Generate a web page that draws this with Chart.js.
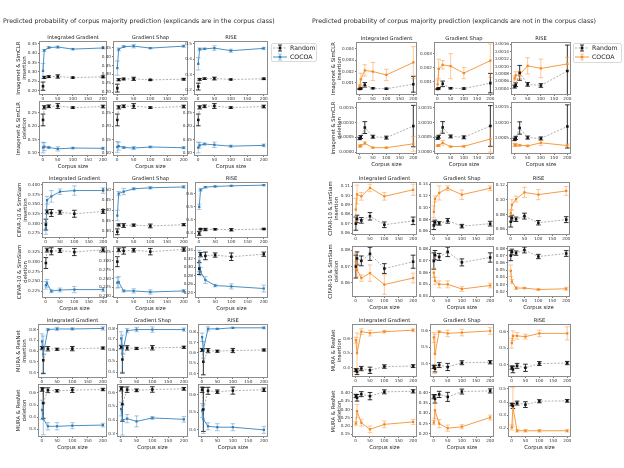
<!DOCTYPE html>
<html>
<head>
<meta charset="utf-8">
<script src="https://cdn.jsdelivr.net/npm/chart.js@4.4.1/dist/chart.umd.min.js"></script>
<style>
  body { margin: 0; background: #fff; }
  #fig { position: relative; width: 624px; height: 468px; overflow: hidden; background: #fff; font-family: "DejaVu Sans", sans-serif; }
  .title { position: absolute; color: #2a2a2a; white-space: nowrap; line-height: 1; font-weight: normal;
           -webkit-font-smoothing: antialiased; will-change: transform; }
  canvas { position: absolute; }
</style>
</head>
<body>
<div id="fig"></div>
<script>
// ---------- data ----------
const corpusSizes = [1, 5, 20, 50, 100, 200];
const xTicks = [0, 50, 100, 150, 200];
const methods = ["Integrated Gradient", "Gradient Shap", "RISE"];
const datasetNames = ["Imagenet & SimCLR", "CIFAR-10 & SimSiam", "MURA & ResNet"];
const metrics = ["insertion", "deletion"];
const seriesNames = ["Random", "COCOA"];

// Random baseline (same for every explainer of a dataset)
const inImgRandom     = [0.223, 0.270, 0.274, 0.275, 0.269, 0.273];
const inImgRandomErr  = [0.022, 0.006, 0.005, 0.009, 0.003, 0.005];
const inCifRandom     = [0.297, 0.330, 0.327, 0.329, 0.325, 0.331];
const inCifRandomErr  = [0.014, 0.005, 0.009, 0.005, 0.009, 0.005];
const inMurRandom     = [0.628, 0.516, 0.622, 0.617, 0.623, 0.628];
const inMurRandomErr  = [0.015, 0.125, 0.020, 0.010, 0.020, 0.010];
const outImgRandom    = [0.00046, 0.00051, 0.00083, 0.00052, 0.00049, 0.00088];
const outImgRandomErr = [0.00004, 0.00005, 0.00020, 0.00005, 0.00005, 0.00070];
const outCifRandom    = [0.0700, 0.0750, 0.0735, 0.0778, 0.0688, 0.0730];
const outCifRandomErr = [0.0070, 0.0040, 0.0030, 0.0040, 0.0030, 0.0040];
const outMurRandom    = [0.381, 0.370, 0.392, 0.380, 0.406, 0.409];
const outMurRandomErr = [0.010, 0.020, 0.015, 0.022, 0.012, 0.010];

// COCOA, explicands in the corpus class
const inImgInsIG      = [0.305, 0.415, 0.430, 0.433, 0.422, 0.428];
const inImgInsIGErr   = [0.040, 0.005, 0.006, 0.006, 0.004, 0.005];
const inImgInsGS      = [0.335, 0.440, 0.455, 0.458, 0.447, 0.458];
const inImgInsGSErr   = [0.040, 0.008, 0.005, 0.010, 0.003, 0.006];
const inImgInsRISE    = [0.370, 0.465, 0.467, 0.472, 0.455, 0.470];
const inImgInsRISEErr = [0.040, 0.008, 0.005, 0.015, 0.010, 0.007];
const inImgDelIG      = [0.120, 0.123, 0.120, 0.115, 0.118, 0.117];
const inImgDelIGErr   = [0.020, 0.015, 0.004, 0.008, 0.003, 0.004];
const inImgDelGS      = [0.122, 0.125, 0.120, 0.118, 0.122, 0.119];
const inImgDelGSErr   = [0.020, 0.015, 0.004, 0.006, 0.003, 0.004];
const inImgDelRISE    = [0.120, 0.128, 0.133, 0.130, 0.125, 0.128];
const inImgDelRISEErr = [0.020, 0.010, 0.004, 0.010, 0.004, 0.005];
const inCifInsIG      = [0.287, 0.360, 0.370, 0.382, 0.385, 0.385];
const inCifInsIGErr   = [0.015, 0.010, 0.015, 0.007, 0.012, 0.007];
const inCifInsGS      = [0.375, 0.480, 0.490, 0.503, 0.508, 0.512];
const inCifInsGSErr   = [0.025, 0.010, 0.015, 0.005, 0.006, 0.006];
const inCifInsRISE    = [0.500, 0.630, 0.650, 0.655, 0.660, 0.665];
const inCifInsRISEErr = [0.020, 0.010, 0.006, 0.005, 0.004, 0.004];
const inCifDelIG      = [0.240, 0.245, 0.225, 0.228, 0.229, 0.229];
const inCifDelIGErr   = [0.010, 0.010, 0.004, 0.005, 0.008, 0.005];
const inCifDelGS      = [0.238, 0.240, 0.215, 0.215, 0.212, 0.215];
const inCifDelGSErr   = [0.015, 0.015, 0.003, 0.006, 0.006, 0.004];
const inCifDelRISE    = [0.315, 0.290, 0.270, 0.257, 0.255, 0.250];
const inCifDelRISEErr = [0.025, 0.010, 0.008, 0.003, 0.006, 0.008];
const inMurInsIG      = [0.690, 0.570, 0.800, 0.805, 0.805, 0.810];
const inMurInsIGErr   = [0.070, 0.170, 0.010, 0.015, 0.010, 0.015];
const inMurInsGS      = [0.710, 0.570, 0.780, 0.790, 0.790, 0.790];
const inMurInsGSErr   = [0.060, 0.170, 0.020, 0.020, 0.025, 0.015];
const inMurInsRISE    = [0.750, 0.630, 0.830, 0.830, 0.840, 0.840];
const inMurInsRISEErr = [0.040, 0.080, 0.020, 0.005, 0.005, 0.010];
const inMurDelIG      = [0.460, 0.385, 0.325, 0.325, 0.330, 0.335];
const inMurDelIGErr   = [0.080, 0.130, 0.030, 0.030, 0.025, 0.015];
const inMurDelGS      = [0.480, 0.400, 0.410, 0.390, 0.415, 0.405];
const inMurDelGSErr   = [0.050, 0.110, 0.030, 0.040, 0.010, 0.020];
const inMurDelRISE    = [0.510, 0.460, 0.420, 0.415, 0.415, 0.400];
const inMurDelRISEErr = [0.040, 0.080, 0.020, 0.020, 0.020, 0.020];

// COCOA, explicands not in the corpus class
const outImgInsIG      = [0.00070, 0.00130, 0.00210, 0.00200, 0.00170, 0.00280];
const outImgInsIGErr   = [0.00015, 0.00055, 0.00050, 0.00080, 0.00050, 0.00140];
const outImgInsGS      = [0.00080, 0.00190, 0.00220, 0.00210, 0.00160, 0.00250];
const outImgInsGSErr   = [0.00030, 0.00070, 0.00030, 0.00090, 0.00040, 0.00120];
const outImgInsRISE    = [0.00068, 0.00076, 0.00078, 0.00102, 0.00095, 0.00107];
const outImgInsRISEErr = [0.00007, 0.00010, 0.00010, 0.00022, 0.00025, 0.00018];
const outImgDelIG      = [0.00020, 0.00022, 0.00030, 0.00015, 0.00015, 0.00028];
const outImgDelIGErr   = [0.00004, 0.00003, 0.00005, 0.00002, 0.00002, 0.00025];
const outImgDelGS      = [0.00020, 0.00021, 0.00030, 0.00017, 0.00018, 0.00043];
const outImgDelGSErr   = [0.00003, 0.00003, 0.00008, 0.00002, 0.00003, 0.00045];
const outImgDelRISE    = [0.00028, 0.00028, 0.00027, 0.00025, 0.00035, 0.00026];
const outImgDelRISEErr = [0.00005, 0.00005, 0.00003, 0.00003, 0.00008, 0.00005];
const outCifInsIG      = [0.085, 0.101, 0.099, 0.108, 0.099, 0.106];
const outCifInsIGErr   = [0.012, 0.010, 0.004, 0.004, 0.004, 0.006];
const outCifInsGS      = [0.093, 0.115, 0.125, 0.133, 0.122, 0.133];
const outCifInsGSErr   = [0.010, 0.005, 0.012, 0.004, 0.008, 0.004];
const outCifInsRISE    = [0.082, 0.093, 0.101, 0.110, 0.107, 0.112];
const outCifInsRISEErr = [0.004, 0.007, 0.004, 0.007, 0.007, 0.006];
const outCifDelIG      = [0.073, 0.068, 0.063, 0.066, 0.059, 0.063];
const outCifDelIGErr   = [0.005, 0.004, 0.002, 0.005, 0.006, 0.003];
const outCifDelGS      = [0.060, 0.053, 0.050, 0.050, 0.046, 0.049];
const outCifDelGSErr   = [0.004, 0.003, 0.003, 0.003, 0.002, 0.002];
const outCifDelRISE    = [0.049, 0.034, 0.025, 0.025, 0.023, 0.024];
const outCifDelRISEErr = [0.008, 0.003, 0.002, 0.001, 0.001, 0.002];
const outMurInsIG      = [0.590, 0.500, 0.650, 0.640, 0.650, 0.660];
const outMurInsIGErr   = [0.020, 0.140, 0.020, 0.020, 0.010, 0.010];
const outMurInsGS      = [0.560, 0.460, 0.595, 0.585, 0.590, 0.600];
const outMurInsGSErr   = [0.030, 0.120, 0.005, 0.020, 0.020, 0.020];
const outMurInsRISE    = [0.530, 0.575, 0.575, 0.570, 0.590, 0.590];
const outMurInsRISEErr = [0.030, 0.030, 0.020, 0.015, 0.020, 0.040];
const outMurDelIG      = [0.215, 0.290, 0.220, 0.180, 0.210, 0.225];
const outMurDelIGErr   = [0.010, 0.040, 0.020, 0.020, 0.020, 0.015];
const outMurDelGS      = [0.255, 0.315, 0.250, 0.228, 0.235, 0.280];
const outMurDelGSErr   = [0.010, 0.040, 0.020, 0.015, 0.010, 0.012];
const outMurDelRISE    = [0.205, 0.360, 0.180, 0.180, 0.180, 0.180];
const outMurDelRISEErr = [0.020, 0.150, 0.010, 0.010, 0.010, 0.010];

// y tick labels
const tIn20to45   = ["0.20", "0.25", "0.30", "0.35", "0.40", "0.45"];
const tIn2to5     = ["0.2", "0.3", "0.4", "0.5"];
const tIn10to25   = ["0.10", "0.15", "0.20", "0.25"];
const tInCifInsIG = ["0.275", "0.300", "0.325", "0.350", "0.375", "0.400"];
const tInCifInsGS = ["0.30", "0.35", "0.40", "0.45", "0.50"];
const tIn3to6     = ["0.3", "0.4", "0.5", "0.6"];
const tInCifDelIG = ["0.225", "0.250", "0.275", "0.300", "0.325"];
const tInCifDelGS = ["0.200", "0.225", "0.250", "0.275", "0.300", "0.325"];
const tInCifDelRISE = ["0.24", "0.26", "0.28", "0.30", "0.32", "0.34"];
const tIn4to8     = ["0.4", "0.5", "0.6", "0.7", "0.8"];
const tIn4to6     = ["0.4", "0.5", "0.6"];
const tOutImgInsIG = ["0.001", "0.002", "0.003", "0.004"];
const tOutImgInsGS = ["0.001", "0.002", "0.003"];
const tOutImgInsRISE = ["0.0004", "0.0006", "0.0008", "0.0010", "0.0012", "0.0014", "0.0016"];
const tOutImgDel  = ["0.0000", "0.0005", "0.0010", "0.0015"];
const tOutCifInsIG = ["0.06", "0.07", "0.08", "0.09", "0.10", "0.11"];
const tOutCifInsGS = ["0.06", "0.08", "0.10", "0.12", "0.14"];
const tOutCifInsRISE = ["0.06", "0.08", "0.10", "0.12"];
const tOutCifDel  = ["0.02", "0.03", "0.04", "0.05", "0.06", "0.07", "0.08"];
const tOutMurDelIG = ["0.15", "0.20", "0.25", "0.30", "0.35", "0.40"];
const tOutMurDelGS = ["0.20", "0.25", "0.30", "0.35", "0.40"];

// ---------- tables built from the arrays (panel -> dataset -> metric -> method) ----------
const randomTable = [
  [[inImgRandom, inImgRandomErr], [inCifRandom, inCifRandomErr], [inMurRandom, inMurRandomErr]],
  [[outImgRandom, outImgRandomErr], [outCifRandom, outCifRandomErr], [outMurRandom, outMurRandomErr]],
];
const cocoaTable = [
  [
    [[[inImgInsIG, inImgInsIGErr], [inImgInsGS, inImgInsGSErr], [inImgInsRISE, inImgInsRISEErr]],
     [[inImgDelIG, inImgDelIGErr], [inImgDelGS, inImgDelGSErr], [inImgDelRISE, inImgDelRISEErr]]],
    [[[inCifInsIG, inCifInsIGErr], [inCifInsGS, inCifInsGSErr], [inCifInsRISE, inCifInsRISEErr]],
     [[inCifDelIG, inCifDelIGErr], [inCifDelGS, inCifDelGSErr], [inCifDelRISE, inCifDelRISEErr]]],
    [[[inMurInsIG, inMurInsIGErr], [inMurInsGS, inMurInsGSErr], [inMurInsRISE, inMurInsRISEErr]],
     [[inMurDelIG, inMurDelIGErr], [inMurDelGS, inMurDelGSErr], [inMurDelRISE, inMurDelRISEErr]]],
  ],
  [
    [[[outImgInsIG, outImgInsIGErr], [outImgInsGS, outImgInsGSErr], [outImgInsRISE, outImgInsRISEErr]],
     [[outImgDelIG, outImgDelIGErr], [outImgDelGS, outImgDelGSErr], [outImgDelRISE, outImgDelRISEErr]]],
    [[[outCifInsIG, outCifInsIGErr], [outCifInsGS, outCifInsGSErr], [outCifInsRISE, outCifInsRISEErr]],
     [[outCifDelIG, outCifDelIGErr], [outCifDelGS, outCifDelGSErr], [outCifDelRISE, outCifDelRISEErr]]],
    [[[outMurInsIG, outMurInsIGErr], [outMurInsGS, outMurInsGSErr], [outMurInsRISE, outMurInsRISEErr]],
     [[outMurDelIG, outMurDelIGErr], [outMurDelGS, outMurDelGSErr], [outMurDelRISE, outMurDelRISEErr]]],
  ],
];
const tickTable = [
  [
    [[tIn20to45, tIn20to45, tIn2to5], [tIn10to25, tIn10to25, tIn10to25]],
    [[tInCifInsIG, tInCifInsGS, tIn3to6], [tInCifDelIG, tInCifDelGS, tInCifDelRISE]],
    [[tIn4to8, tIn4to8, tIn4to8], [tIn3to6, tIn3to6, tIn4to6]],
  ],
  [
    [[tOutImgInsIG, tOutImgInsGS, tOutImgInsRISE], [tOutImgDel, tOutImgDel, tOutImgDel]],
    [[tOutCifInsIG, tOutCifInsGS, tOutCifInsRISE], [tOutCifDel, tOutCifDel, tOutCifDel]],
    [[tIn4to6, tIn4to6, tIn4to6], [tOutMurDelIG, tOutMurDelGS, tIn2to5]],
  ],
];

// ---------- axis limits and layout ----------
const yLimits = [
  [
    [[[0.181, 0.459], [0.19, 0.48], [0.175, 0.51]], [[0.092, 0.29], [0.092, 0.29], [0.092, 0.29]]],
    [[[0.265, 0.404], [0.272, 0.53], [0.27, 0.68]], [[0.21, 0.338], [0.198, 0.338], [0.23, 0.348]]],
    [[[0.36, 0.84], [0.355, 0.83], [0.37, 0.865]], [[0.245, 0.665], [0.283, 0.656], [0.365, 0.655]]],
  ],
  [
    [[[0.00002, 0.0045], [0.0001, 0.00375], [0.00026, 0.00163]], [[-0.00003, 0.00166], [-0.00005, 0.00167], [0.00002, 0.00164]]],
    [[[0.059, 0.113], [0.0555, 0.1415], [0.0535, 0.1225]], [[0.052, 0.082], [0.040, 0.082], [0.014, 0.082]]],
    [[[0.34, 0.695], [0.325, 0.635], [0.33, 0.64]], [[0.14, 0.435], [0.19, 0.428], [0.14, 0.515]]],
  ],
];

const panels = [
  {
    title: "Predicted probability of corpus majority prediction (explicands are in the corpus class)",
    titleX: 3,
    line: "#4a90c4", marker: "#2f7dba", err: "rgba(60,130,190,0.5)",
    yTitleLeft: [15, 16, 15],
    cols: [[[40, 106], [114, 187], [195, 267]], [[43, 106], [114, 187], [196, 267]], [[39, 106], [118, 187], [199, 267]]],
    rows: [[[42, 94], [102, 155]], [[183, 237], [247, 297]], [[325, 377], [385, 436]]],
    legend: [271, 43, 45, 18],
  },
  {
    title: "Predicted probability of corpus majority prediction (explicands are not in the corpus class)",
    titleX: 312,
    line: "#f59d45", marker: "#f08a24", err: "rgba(255,140,40,0.55)",
    yTitleLeft: [330, 327, 330],
    cols: [[[357, 416], [435, 493], [512, 570]], [[353, 416], [431, 493], [508, 569]], [[353, 416], [431, 493], [509, 570]]],
    rows: [[[43, 94], [103, 153]], [[183, 234], [247, 296]], [[325, 376], [387, 436]]],
    legend: [573, 43, 48, 19],
  },
];

// ---------- plugins ----------
const errorBars = {
  id: "errorBars",
  beforeDatasetsDraw(chart) {
    const { ctx, chartArea: a, scales: { x, y } } = chart;
    ctx.save();
    ctx.beginPath();
    ctx.rect(a.left, a.top, a.width, a.height);
    ctx.clip();
    chart.data.datasets.forEach((ds) => {
      ctx.strokeStyle = ds.errorColor;
      ctx.lineWidth = 0.9;
      ds.data.forEach((pt, i) => {
        const px = x.getPixelForValue(pt.x);
        const hi = y.getPixelForValue(pt.y + ds.errors[i]);
        const lo = y.getPixelForValue(pt.y - ds.errors[i]);
        ctx.beginPath();
        ctx.moveTo(px, hi); ctx.lineTo(px, lo);
        ctx.moveTo(px - 2.3, hi); ctx.lineTo(px + 2.3, hi);
        ctx.moveTo(px - 2.3, lo); ctx.lineTo(px + 2.3, lo);
        ctx.stroke();
      });
    });
    ctx.restore();
  },
};

const frame = {
  id: "frame",
  afterDraw(chart) {
    const { ctx, chartArea: a } = chart;
    ctx.save();
    ctx.strokeStyle = "#8c8c8c";
    ctx.lineWidth = 1;
    ctx.strokeRect(Math.round(a.left) - 0.5, Math.round(a.top) - 0.5, Math.round(a.width) + 1, Math.round(a.height) + 1);
    ctx.restore();
  },
};

const sideLegend = {
  id: "sideLegend",
  afterDraw(chart, args, opts) {
    if (!opts.box) return;
    const { ctx } = chart;
    const [bx, by, bw, bh] = opts.box;
    ctx.save();
    ctx.strokeStyle = "#d0d0d0";
    ctx.lineWidth = 0.8;
    ctx.beginPath();
    ctx.roundRect(bx + 0.5, by + 0.5, bw, bh, 1.5);
    ctx.stroke();
    ctx.font = "6.2px 'DejaVu Sans'";
    ctx.textBaseline = "middle";
    chart.data.datasets.forEach((ds, i) => {
      const cy = by + 5 + i * 9;
      const x0 = bx + 2, x1 = bx + 16, xm = (x0 + x1) / 2;
      ctx.setLineDash(ds.borderDash || []);
      ctx.strokeStyle = ds.borderColor;
      ctx.lineWidth = ds.borderWidth;
      ctx.beginPath(); ctx.moveTo(x0, cy); ctx.lineTo(x1, cy); ctx.stroke();
      ctx.setLineDash([]);
      ctx.strokeStyle = ds.errorColor;
      ctx.lineWidth = 0.9;
      ctx.beginPath();
      ctx.moveTo(xm, cy - 3); ctx.lineTo(xm, cy + 3);
      ctx.moveTo(xm - 2, cy - 3); ctx.lineTo(xm + 2, cy - 3);
      ctx.moveTo(xm - 2, cy + 3); ctx.lineTo(xm + 2, cy + 3);
      ctx.stroke();
      ctx.fillStyle = ds.pointBackgroundColor;
      ctx.fillRect(xm - 1.3, cy - 1.3, 2.6, 2.6);
      ctx.fillStyle = "#222";
      ctx.fillText(ds.label, bx + 19, cy);
    });
    ctx.restore();
  },
};

// ---------- build ----------
Chart.defaults.font.family = "'DejaVu Sans', sans-serif";
Chart.defaults.color = "#333";

const fig = document.getElementById("fig");

function addTitle(text, x, y) {
  const d = document.createElement("div");
  d.className = "title";
  d.textContent = text;
  d.style.left = x + "px";
  d.style.top = y + "px";
  d.style.fontSize = "6.3px";
  fig.appendChild(d);
}

function makeSubplot(p, g, m, c) {
  const panel = panels[p];
  const [bx0, bx1] = panel.cols[g][c];
  const [by0, by1] = panel.rows[g][m];
  const wy = c === 0 ? bx0 - panel.yTitleLeft[g] : 17;
  const topPad = m === 0 ? 8 : 4;
  const hx = m === 1 ? 15 : 8;
  const left = bx0 - wy;
  const canvasTop = by0 - topPad;
  let width = wy + (bx1 - bx0) + 5;
  let legendBox = null;
  if (g === 0 && m === 0 && c === 2) {
    const [lx, ly, lw, lh] = panel.legend;
    width = Math.max(width, lx + lw + 2 - left);
    legendBox = [lx - left, ly - canvasTop, lw, lh];
  }
  const padRight = width - wy - (bx1 - bx0);
  const height = topPad + (by1 - by0) + hx;

  const canvas = document.createElement("canvas");
  canvas.width = width;
  canvas.height = height;
  canvas.style.left = left + "px";
  canvas.style.top = canvasTop + "px";
  fig.appendChild(canvas);

  const [rnd, rndErr] = randomTable[p][g];
  const [coc, cocErr] = cocoaTable[p][g][m][c];
  const ticks = tickTable[p][g][m][c];
  const lim = yLimits[p][g][m][c];

  new Chart(canvas, {
    type: "line",
    data: {
      datasets: [
        {
          label: seriesNames[0],
          data: corpusSizes.map((x, i) => ({ x, y: rnd[i] })),
          errors: rndErr,
          errorColor: "#1a1a1a",
          borderColor: "#9a9a9a",
          borderWidth: 0.8,
          borderDash: [2, 1.5],
          pointStyle: "rect",
          pointRadius: 1.8,
          pointBackgroundColor: "#111",
          pointBorderWidth: 0,
        },
        {
          label: seriesNames[1],
          data: corpusSizes.map((x, i) => ({ x, y: coc[i] })),
          errors: cocErr,
          errorColor: panel.err,
          borderColor: panel.line,
          borderWidth: 1,
          pointStyle: "rect",
          pointRadius: 1.6,
          pointBackgroundColor: panel.marker,
          pointBorderWidth: 0,
        },
      ],
    },
    options: {
      responsive: false,
      animation: false,
      events: [],
      layout: { padding: { top: m === 0 ? 0 : topPad, right: padRight, bottom: 0, left: 0 } },
      scales: {
        x: {
          type: "linear",
          min: -9,
          max: 210,
          afterBuildTicks: (s) => { s.ticks = xTicks.map((v) => ({ value: v })); },
          afterFit: (s) => { s.height = hx; },
          ticks: { font: { size: 4.2 }, padding: 0.5, maxRotation: 0, minRotation: 0, autoSkip: false, callback: (v) => String(v) },
          grid: { drawOnChartArea: false, tickLength: 2, color: "#555", lineWidth: 0.8 },
          border: { display: false },
          title: { display: m === 1, text: "Corpus size", font: { size: 5.3, lineHeight: 1.2 }, padding: 0, color: "#222" },
        },
        y: {
          type: "linear",
          min: lim[0],
          max: lim[1],
          afterBuildTicks: (s) => {
            s.ticks = ticks.map(parseFloat).filter((v) => v >= lim[0] && v <= lim[1]).map((v) => ({ value: v }));
          },
          afterFit: (s) => { s.width = wy; },
          ticks: {
            font: { size: 4.2 }, padding: 1, autoSkip: false,
            callback: (v) => ticks.find((t) => Math.abs(parseFloat(t) - v) < 1e-9),
          },
          grid: { drawOnChartArea: false, tickLength: 2, color: "#555", lineWidth: 0.8 },
          border: { display: false },
          title: { display: c === 0, text: [datasetNames[g], metrics[m]], font: { size: 5.3, lineHeight: 1.2 }, padding: 0, color: "#222" },
        },
      },
      plugins: {
        legend: { display: false },
        tooltip: { enabled: false },
        title: {
          display: m === 0, text: methods[c], fullSize: false,
          font: { size: 5.2, lineHeight: 1, weight: "normal" }, padding: { top: 1, bottom: 2 }, color: "#222",
        },
        sideLegend: { box: legendBox },
      },
    },
    plugins: [errorBars, frame, sideLegend],
  });
}

panels.forEach((panel, p) => {
  addTitle(panel.title, panel.titleX, 18);
  for (let g = 0; g < 3; g++)
    for (let m = 0; m < 2; m++)
      for (let c = 0; c < 3; c++) makeSubplot(p, g, m, c);
});
</script>
</body>
</html>
